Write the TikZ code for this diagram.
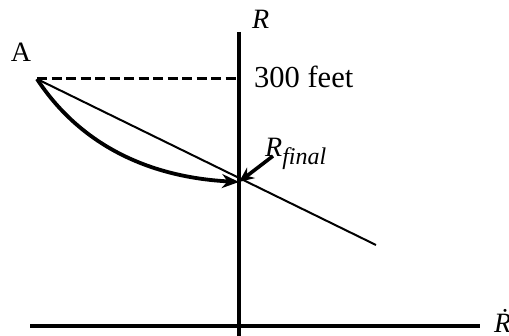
\documentclass[tikz,border=0pt]{standalone}
\usepackage{fontspec}
\setmainfont{Liberation Serif}
\usetikzlibrary{arrows.meta}
\begin{document}
\begin{tikzpicture}[x=1pt,y=-1pt,
  axis/.style={line width=3.6pt},
  thinline/.style={line width=2pt},
  lbl/.style={font=\fontsize{28}{28}\selectfont, inner sep=0pt},
  bigarrow/.style={-{Stealth[length=17pt,width=14pt]}}]
\useasboundingbox (0,0) rectangle (509,336);
\coordinate (A) at (37,79);
\coordinate (top) at (239,32);
\coordinate (bot) at (239,336);
\coordinate (hl) at (30,326);
\coordinate (hr) at (480,326);
\coordinate (D) at (239,79);
\coordinate (P) at (239,182);
\coordinate (E) at (376,245);
\coordinate (Q) at (273,156);
\draw[axis] (top) -- (bot);
\draw[axis] (hl) -- (hr);
\draw[line width=3pt, dash pattern=on 10pt off 4.5pt] (A) -- (D);
\draw[thinline] (A) -- (E);
\draw[bigarrow, line width=3.8pt] (A) .. controls (79,143) and (146,177) .. (P);
\draw[line width=3.6pt, -{Stealth[length=15pt,width=13pt]}] (Q) -- (P);
\node[lbl, anchor=base] (la) at (21,62) {A};
\node[lbl, anchor=base west] (lr) at (252,29) {\itshape R};
\node[lbl, anchor=base west, font=\fontsize{30.5}{30}\selectfont] (l300) at (254,88) {300 feet};
\node[lbl, anchor=base west] (lrf) at (265,157) {\itshape R\raisebox{-8pt}{\fontsize{24}{24}\selectfont final}};
\node[lbl, anchor=base west] (lrd) at (494,333) {\itshape \.R};
\end{tikzpicture}
\end{document}
